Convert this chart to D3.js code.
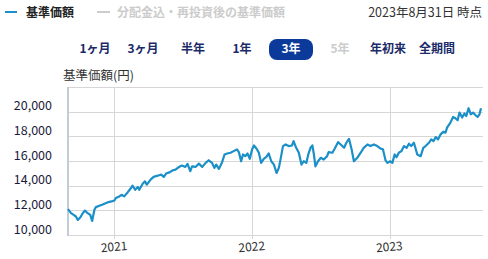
<!DOCTYPE html>
<html>
<head>
<meta charset="utf-8">
<script src="https://d3js.org/d3.v7.min.js"></script>
<style>
body { margin: 0; background: #fff; font-family: "Noto Sans CJK JP", "Noto Sans", sans-serif; }
</style>
</head>
<body>
<svg></svg>
<script>
// base price, 3 years to 2023-08-31
var dates = [
  "2020-08-31","2020-09-08","2020-09-15","2020-09-21","2020-09-26","2020-10-03","2020-10-09","2020-10-15",
  "2020-10-22","2020-10-29","2020-11-03","2020-11-09","2020-11-13","2020-11-22","2020-12-01","2020-12-10",
  "2020-12-19","2020-12-27","2021-01-01","2021-01-05","2021-01-14","2021-01-20","2021-01-27","2021-02-05",
  "2021-02-14","2021-02-18","2021-02-25","2021-03-04","2021-03-08","2021-03-17","2021-03-23","2021-03-28",
  "2021-04-07","2021-04-15","2021-04-26","2021-05-05","2021-05-12","2021-05-18","2021-05-27","2021-06-05",
  "2021-06-12","2021-06-20","2021-06-29","2021-07-08","2021-07-14","2021-07-21","2021-07-26","2021-08-04",
  "2021-08-13","2021-08-22","2021-08-31","2021-09-08","2021-09-17","2021-09-23","2021-09-28","2021-10-05",
  "2021-10-13","2021-10-20","2021-10-27","2021-11-05","2021-11-13","2021-11-22","2021-11-27","2021-12-03",
  "2021-12-08","2021-12-14","2021-12-20","2021-12-26","2022-01-01","2022-01-06","2022-01-13","2022-01-19",
  "2022-01-25","2022-02-01","2022-02-08","2022-02-14","2022-02-21","2022-02-28","2022-03-07","2022-03-13",
  "2022-03-17","2022-03-24","2022-03-31","2022-04-08","2022-04-17","2022-04-21","2022-04-28","2022-05-05",
  "2022-05-12","2022-05-18","2022-05-25","2022-05-30","2022-06-05","2022-06-10","2022-06-14","2022-06-18",
  "2022-06-25","2022-07-02","2022-07-10","2022-07-19","2022-07-23","2022-08-02","2022-08-08","2022-08-17",
  "2022-08-24","2022-09-02","2022-09-08","2022-09-15","2022-09-22","2022-09-28","2022-10-07","2022-10-16",
  "2022-10-24","2022-11-03","2022-11-11","2022-11-20","2022-11-29","2022-12-08","2022-12-14","2022-12-21",
  "2022-12-26","2023-01-02","2023-01-08","2023-01-14","2023-01-19","2023-01-25","2023-02-01","2023-02-08",
  "2023-02-15","2023-02-21","2023-02-27","2023-03-06","2023-03-10","2023-03-15","2023-03-24","2023-03-31",
  "2023-04-06","2023-04-15","2023-04-21","2023-04-27","2023-05-03","2023-05-09","2023-05-16","2023-05-23",
  "2023-05-29","2023-06-02","2023-06-11","2023-06-18","2023-06-24","2023-06-30","2023-07-05","2023-07-12",
  "2023-07-18","2023-07-23","2023-07-29","2023-08-04","2023-08-10","2023-08-16","2023-08-22","2023-08-27",
  "2023-08-31"
];
var prices = [
  12100,11770,11630,11500,11220,11440,11770,11980,
  11770,11630,11140,12040,12260,12370,12470,12590,
  12690,12750,12800,13000,13130,13260,13130,13450,
  13810,14000,13670,13890,13670,14160,14350,14080,
  14490,14710,14810,14900,14710,14980,15080,15250,
  15300,15490,15630,15520,15770,15170,15570,15520,
  15790,15520,15850,16060,15850,15440,15710,15360,
  15850,16530,16610,16670,16800,16940,16720,15980,
  16530,16390,16610,16180,16940,17260,16990,16670,
  15850,16180,16340,16610,15980,15710,15030,15440,
  16050,17210,17340,17210,17260,17610,17070,16670,
  15710,15980,15850,16530,17070,17260,16530,15570,
  15980,16260,16120,16390,16720,16670,16990,17530,
  17340,17070,17480,17800,16940,15980,16260,16670,
  17070,17340,17210,17340,17210,17000,16950,16050,
  15850,15980,15850,16530,16310,16670,16800,17210,
  17070,17400,17210,17480,17070,16530,16390,17070,
  17210,17480,17750,17610,17940,17750,18160,18380,
  18300,18710,19120,19570,19470,19300,19930,19520,
  19850,19650,20280,19790,19930,19730,19570,19790,
  20280
];
var yTicks = [10000, 12000, 14000, 16000, 18000, 20000];
var yMax = 22000;
var yearTicks = ["2021-01-01", "2022-01-01", "2023-01-01"];
var periods = ["1ヶ月", "3ヶ月", "半年", "1年", "3年", "5年", "年初来", "全期間"];
var periodX = [95, 143, 193, 242, 291, 340, 388, 437];
var selectedPeriod = "3年";
var disabledPeriod = "5年";

var width = 488, height = 259;
var navy = "#1b2a68";
var lineColor = "#1a8fc8";

var parse = d3.timeParse("%Y-%m-%d");
var data = dates.map(function (d, i) { return { date: parse(d), value: prices[i] }; });

var svg = d3.select("svg").attr("width", width).attr("height", height);

// header legend
svg.append("line").attr("x1", 5).attr("x2", 17).attr("y1", 12).attr("y2", 12)
  .attr("stroke", lineColor).attr("stroke-width", 2);
svg.append("text").attr("x", 26).attr("y", 17).text("基準価額")
  .style("font-size", "12px").style("font-weight", "bold").attr("fill", "#222");
svg.append("line").attr("x1", 97).attr("x2", 110).attr("y1", 12).attr("y2", 12)
  .attr("stroke", "#cccccc").attr("stroke-width", 2);
svg.append("text").attr("x", 117).attr("y", 17).text("分配金込・再投資後の基準価額")
  .style("font-size", "12px").style("font-weight", "bold").attr("fill", "#cccccc");
svg.append("text").attr("x", 482).attr("y", 17).attr("text-anchor", "end").text("2023年8月31日 時点")
  .style("font-size", "12.5px").attr("fill", "#333");

// period buttons
var btn = svg.append("g").selectAll("g").data(periods).enter().append("g")
  .attr("transform", function (d, i) { return "translate(" + periodX[i] + ",49)"; });
btn.filter(function (d) { return d === selectedPeriod; }).append("rect")
  .attr("x", -22).attr("y", -10).attr("width", 44).attr("height", 21).attr("rx", 8)
  .attr("fill", "#0b3a9b");
btn.append("text").attr("text-anchor", "middle").attr("dy", "0.36em").text(function (d) { return d; })
  .style("font-size", "12px").style("font-weight", "bold")
  .attr("fill", function (d) { return d === selectedPeriod ? "#fff" : d === disabledPeriod ? "#cccccc" : navy; });

// chart
var x = d3.scaleTime().domain([parse("2020-08-31"), parse("2023-08-31")]).range([68, 481]);
var y = d3.scaleLinear().domain([10000, yMax]).range([235, 87]);
var xRight = 483;

svg.append("text").attr("x", 63).attr("y", 80).text("基準価額(円)")
  .style("font-size", "12.5px").attr("fill", "#333");

var grid = svg.append("g").attr("stroke", "#d6d6d6").attr("stroke-width", 1);
grid.selectAll(".h").data(yTicks.concat([yMax])).enter().append("line")
  .attr("x1", 68).attr("x2", xRight)
  .attr("y1", function (d) { return Math.round(y(d)) + 0.5; })
  .attr("y2", function (d) { return Math.round(y(d)) + 0.5; });
grid.selectAll(".v").data(yearTicks).enter().append("line")
  .attr("x1", function (d) { return Math.round(x(parse(d))) + 0.5; })
  .attr("x2", function (d) { return Math.round(x(parse(d))) + 0.5; })
  .attr("y1", 87).attr("y2", 239);

svg.append("line").attr("x1", 68).attr("x2", 68).attr("y1", 87).attr("y2", 236)
  .attr("stroke", "#c3cbd9").attr("stroke-width", 2);

svg.append("g").selectAll("text").data(yTicks).enter().append("text")
  .attr("x", 52).attr("y", function (d) { return y(d) - 1.5; }).attr("text-anchor", "end")
  .text(d3.format(","))
  .style("font-size", "12.5px").attr("fill", "#1a1a3a");

svg.append("g").selectAll("text").data(yearTicks).enter().append("text")
  .attr("transform", function (d) { return "translate(" + x(parse(d)) + ",251)rotate(-5)"; })
  .attr("text-anchor", "middle").text(function (d) { return d.slice(0, 4); })
  .style("font-size", "12px").attr("fill", "#333");

var line = d3.line().x(function (d) { return x(d.date); }).y(function (d) { return y(d.value); });
svg.append("path").datum(data).attr("d", line)
  .attr("fill", "none").attr("stroke", lineColor).attr("stroke-width", 2.2).attr("stroke-linejoin", "round");
</script>
</body>
</html>
